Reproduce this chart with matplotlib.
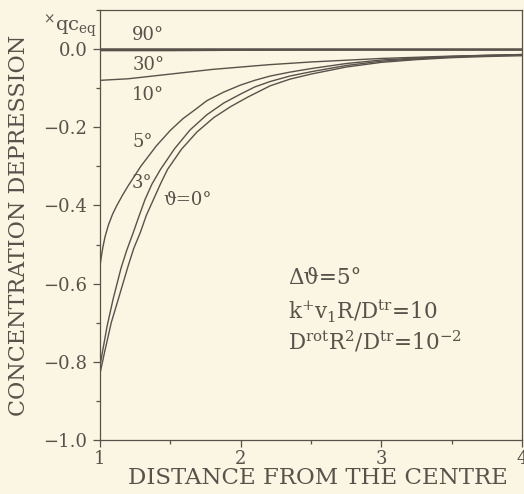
import matplotlib.pyplot as plt
from matplotlib.ticker import MultipleLocator

plt.rcParams['font.family'] = ['DejaVu Serif']
plt.rcParams['mathtext.fontset'] = 'dejavuserif'

# curves (distance, depression)
x_90 = [1.0, 4.0]
y_90 = [0.0, 0.0]

x_30 = [1.0, 1.5, 2.0, 3.0, 4.0]
y_30 = [-0.004, -0.004, -0.003, -0.002, -0.002]

x_10 = [1.0, 1.2, 1.4, 1.6, 1.8, 2.0, 2.2, 2.5, 3.0, 3.5, 4.0]
y_10 = [-0.080, -0.076, -0.068, -0.060, -0.052, -0.046, -0.040, -0.033, -0.024, -0.018, -0.014]

x_5 = [1.0, 1.01, 1.02, 1.036, 1.06, 1.09, 1.12, 1.16, 1.2, 1.29, 1.4, 1.5, 1.59, 1.68,
       1.76, 1.88, 2.0, 2.1, 2.21, 2.35, 2.5, 2.75, 3.0, 3.25, 3.5, 3.75, 4.0]
y_5 = [-0.555, -0.530, -0.508, -0.480, -0.450, -0.422, -0.400, -0.374, -0.350, -0.300, -0.248, -0.208, -0.178, -0.154,
       -0.132, -0.110, -0.092, -0.080, -0.069, -0.059, -0.050, -0.037, -0.028, -0.023, -0.019, -0.016, -0.014]

x_3 = [1.0, 1.02, 1.05, 1.093, 1.15, 1.19, 1.236, 1.275, 1.32, 1.37, 1.43, 1.53, 1.64,
       1.76, 1.88, 2.0, 2.1, 2.21, 2.35, 2.5, 2.75, 3.0, 3.25, 3.5, 3.75, 4.0]
y_3 = [-0.810, -0.770, -0.710, -0.640, -0.560, -0.515, -0.470, -0.430, -0.385, -0.345, -0.308, -0.255, -0.207,
       -0.168, -0.138, -0.115, -0.097, -0.083, -0.069, -0.058, -0.042, -0.031, -0.025, -0.020, -0.017, -0.015]

x_0 = [1.0, 1.036, 1.08, 1.13, 1.2, 1.24, 1.286, 1.33, 1.38, 1.43, 1.48, 1.58, 1.69,
       1.81, 1.93, 2.05, 2.21, 2.35, 2.5, 2.75, 3.0, 3.25, 3.5, 3.75, 4.0]
y_0 = [-0.830, -0.770, -0.700, -0.640, -0.555, -0.510, -0.470, -0.425, -0.385, -0.345, -0.308, -0.256, -0.212,
       -0.175, -0.147, -0.123, -0.094, -0.077, -0.064, -0.046, -0.034, -0.027, -0.022, -0.019, -0.017]

bg = '#faf6e3'
ink = '#57524a'

fig = plt.figure(figsize=(5.24, 4.94), dpi=100, facecolor=bg)
ax = fig.add_axes([0.1908, 0.1093, 0.8052, 0.8705], facecolor=bg)

ax.plot(x_90, y_90, color=ink, lw=1.8)
ax.plot(x_30, y_30, color=ink, lw=1.0)
ax.plot(x_10, y_10, color=ink, lw=1.0)
ax.plot(x_5, y_5, color=ink, lw=1.0)
ax.plot(x_3, y_3, color=ink, lw=1.0)
ax.plot(x_0, y_0, color=ink, lw=1.0)

ax.set_xlim(1, 4)
ax.set_ylim(-1.0, 0.1)
ax.xaxis.set_major_locator(MultipleLocator(1))
ax.xaxis.set_minor_locator(MultipleLocator(0.5))
ax.yaxis.set_major_locator(MultipleLocator(0.2))
ax.yaxis.set_minor_locator(MultipleLocator(0.1))
ax.yaxis.set_major_formatter(lambda v, p: f'{v:.1f}'.replace('-', '\u2212'))
ax.xaxis.set_major_formatter(lambda v, p: f'{v:.0f}')

ax.tick_params(which='both', direction='out', color=ink, labelcolor=ink, width=0.9)
ax.tick_params(which='major', length=5, labelsize=13, pad=4)
ax.tick_params(axis='x', which='major', pad=2)
ax.tick_params(which='minor', length=3)
for s in ax.spines.values():
    s.set_color(ink)
    s.set_linewidth(0.9)

ax.set_xlabel('DISTANCE FROM THE CENTRE', fontsize=16.5, color=ink)
ax.xaxis.set_label_coords(0.517, -0.062)
ax.set_ylabel('CONCENTRATION DEPRESSION', fontsize=16, color=ink)
ax.yaxis.set_label_coords(-0.165, 0.498)

ax.text(-0.008, 0.962, r'$^{\times}$qc$_{\rm eq}$', transform=ax.transAxes,
        ha='right', va='center', fontsize=14, color=ink)

# curve labels
lab = dict(fontsize=13, color=ink, ha='center', va='center')
ax.text(1.343, 0.036, '90°', **lab)
ax.text(1.343, -0.041, '30°', **lab)
ax.text(1.343, -0.117, '10°', **lab)
ax.text(1.307, -0.238, '5°', **lab)
ax.text(1.30, -0.342, '3°', **lab)
ax.text(1.62, -0.386, 'ϑ=0°', **lab)

par = dict(fontsize=15.5, color=ink, ha='left', va='center')
ax.text(2.336, -0.585, 'Δϑ=5°', **par)
ax.text(2.336, -0.672, r'k$^{+}$v$_{1}$R/D$^{\rm tr}$=10', **par)
ax.text(2.336, -0.749, r'D$^{\rm rot}$R$^{2}$/D$^{\rm tr}$=10$^{-2}$', **par)

fig.savefig('out.png', dpi=100, facecolor=bg)
